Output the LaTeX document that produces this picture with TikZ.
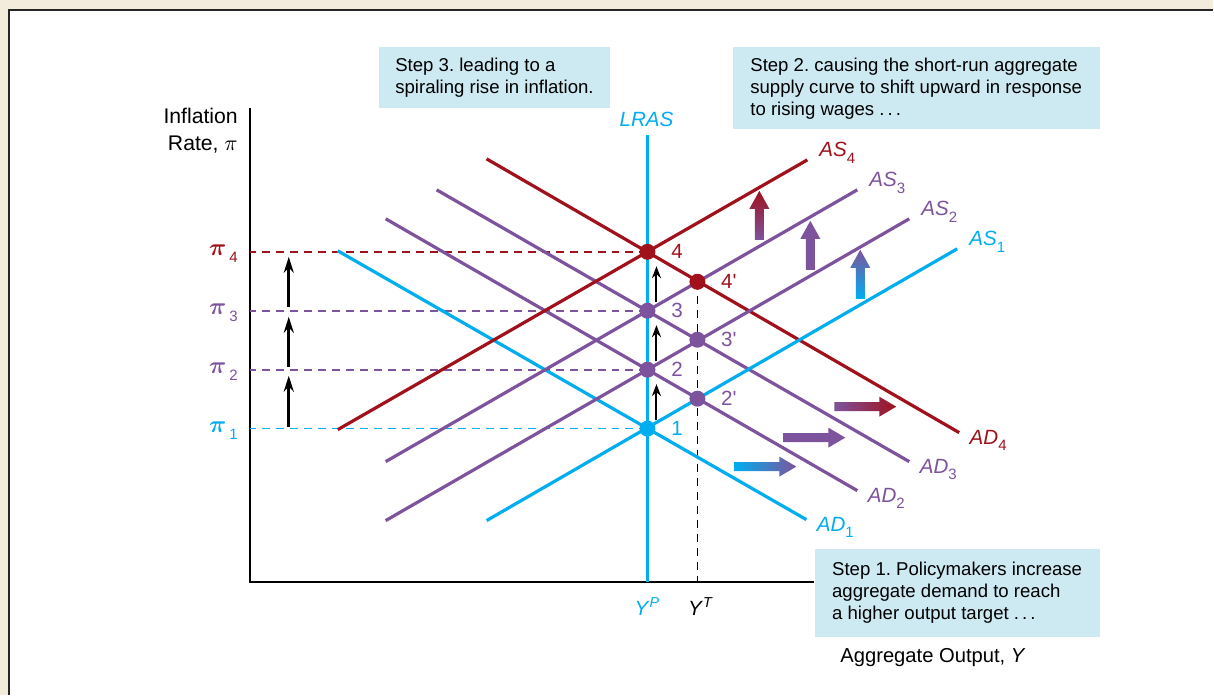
\documentclass[tikz,border=0pt]{standalone}
\usepackage{amsmath}
\usepackage{fontspec}
\setmainfont{Liberation Sans}
\usetikzlibrary{arrows.meta}

\definecolor{lrasblue}{RGB}{0,174,239}
\definecolor{shiftpurple}{RGB}{125,83,157}
\definecolor{spiralred}{RGB}{160,17,28}
\definecolor{notefill}{RGB}{205,233,241}
\definecolor{framebeige}{RGB}{243,235,220}

\newcommand{\curvename}[2]{\textit{#1}\raisebox{-0.6ex}{\fontsize{7.5}{8}\selectfont #2}}
\newcommand{\pilevel}[1]{{\fontsize{12}{12}\selectfont$\boldsymbol{\pi}$}\,\raisebox{-0.7ex}{\fontsize{7.5}{8}\selectfont #1}}
\frenchspacing

\begin{document}
\begin{tikzpicture}[x=0.5pt, y=-0.5pt,
  font=\fontsize{9.3}{11}\selectfont,
  curve/.style={line width=1.6pt},
  guide/.style={line width=0.8pt, dash pattern=on 4pt off 3pt},
  dot/.style={circle, inner sep=0pt, minimum size=8pt},
  note/.style={fill=notefill, anchor=north west, align=left, inner sep=0pt},
  nudge/.style={-{Stealth[length=6pt, width=4.5pt]}, line width=1pt},
  climb/.style={-{Stealth[length=8pt, width=5pt]}, line width=1.3pt},
  big/.style={font=\fontsize{10.3}{12}\selectfont},
  aslbl/.style={big, xshift=15pt, yshift=3.5pt},
  adlbl/.style={big, xshift=14.5pt, yshift=-4pt},
  ptlbl/.style={big, anchor=west, inner sep=0pt, xshift=7.5pt}
]
% frame
\fill[framebeige] (0,0) rectangle (1214,696);
\fill[white] (8,9) rectangle (1214,696);
\draw[line width=1pt, black!85] (9,696) -- (9,10) -- (1214,10);

% axes
\coordinate (origin) at (250,582);
\draw[line width=1pt] (250,108) -- (origin) -- (815,582);
\node[align=right, anchor=east, font=\fontsize{10.6}{13.5}\selectfont] (ylab) at (245,131) {Inflation\\Rate, $\pi$};
\node[anchor=west, font=\fontsize{10.1}{12}\selectfont] (xlab) at (834,658) {Aggregate Output, \textit{Y}};

% equilibria
\coordinate (e1) at (648,429);
\coordinate (e2) at (648,370);
\coordinate (e3) at (648,311);
\coordinate (e4) at (648,252);
\coordinate (t2) at (698,399);
\coordinate (t3) at (698,340);
\coordinate (t4) at (698,282);

\draw[guide, lrasblue] (e1) -- (e1 -| origin);
\draw[guide, shiftpurple] (e2) -- (e2 -| origin);
\draw[guide, shiftpurple] (e3) -- (e3 -| origin);
\draw[guide, spiralred] (e4) -- (e4 -| origin);
\draw[guide, black] (t4) -- (t4 |- origin);

\node[text=spiralred, anchor=east] (pi4) at (245,254) {\pilevel{4}};
\node[text=shiftpurple, anchor=east] (pi3) at (245,313) {\pilevel{3}};
\node[text=shiftpurple, anchor=east] (pi2) at (245,372) {\pilevel{2}};
\node[text=lrasblue, anchor=east] (pi1) at (245,431) {\pilevel{1}};

% LRAS
\draw[curve, line width=1.8pt, lrasblue] (648,135) -- (origin -| e1);
\node[big, text=lrasblue] (lras) at (647,120) {\textit{LRAS}};
\node[big, text=lrasblue] (yp) at (648,607) {\textit{Y}\textsuperscript{\itshape P}};
\node[big] (yt) at (701,607) {\textit{Y}\textsuperscript{\itshape T}};

% aggregate demand
\draw[curve, lrasblue] (338,251) -- (807,520) node[adlbl] {\curvename{AD}{1}};
\draw[curve, shiftpurple] (386,219) -- (858,491) node[adlbl] {\curvename{AD}{2}};
\draw[curve, shiftpurple] (437,190) -- (910,462) node[adlbl] {\curvename{AD}{3}};
\draw[curve, spiralred] (487,159) -- (960,433) node[adlbl] {\curvename{AD}{4}};

% aggregate supply
\draw[curve, lrasblue] (487,521) -- (958,249) node[aslbl] {\curvename{AS}{1}};
\draw[curve, shiftpurple] (386,521) -- (910,219) node[aslbl] {\curvename{AS}{2}};
\draw[curve, shiftpurple] (386,462) -- (858,190) node[aslbl] {\curvename{AS}{3}};
\draw[curve, spiralred] (338,430) -- (808,160) node[aslbl] {\curvename{AS}{4}};

\node[dot, fill=lrasblue] (d1) at (e1) {};
\node[dot, fill=shiftpurple] (d2) at (e2) {};
\node[dot, fill=shiftpurple] (d3) at (e3) {};
\node[dot, fill=spiralred] (d4) at (e4) {};
\node[dot, fill=shiftpurple] (d2t) at (t2) {};
\node[dot, fill=shiftpurple] (d3t) at (t3) {};
\node[dot, fill=spiralred] (d4t) at (t4) {};

\node[ptlbl, text=lrasblue] at (d1.east) {1};
\node[ptlbl, text=shiftpurple] at (d2.east) {2};
\node[ptlbl, text=shiftpurple] at (d3.east) {3};
\node[ptlbl, text=spiralred] at (d4.east) {4};
\node[ptlbl, text=shiftpurple] at (d2t.east) {2\textquotesingle};
\node[ptlbl, text=shiftpurple] at (d3t.east) {3\textquotesingle};
\node[ptlbl, text=spiralred] at (d4t.east) {4\textquotesingle};

% rising inflation
\draw[nudge] ([xshift=4.5pt]d1.north) -- ([xshift=4.5pt, yshift=-3pt]d2.south);
\draw[nudge] ([xshift=4.5pt]d2.north) -- ([xshift=4.5pt, yshift=-3pt]d3.south);
\draw[nudge] ([xshift=4.5pt]d3.north) -- ([xshift=4.5pt, yshift=-3pt]d4.south);
\draw[climb] (289,427) -- (289,376);
\draw[climb] (289,367) -- (289,317);
\draw[climb] (289,307) -- (289,257);

% shifts
\foreach \x/\y/\lo/\hi in {760/240/shiftpurple/spiralred, 811/270/shiftpurple/shiftpurple, 861/299/lrasblue/shiftpurple}
  \shade[bottom color=\lo, top color=\hi] (\x,\y) -- ++(-4.5,0) -- ++(0,-31) -- ++(-5.5,0)
    -- ++(10,-18) -- ++(10,18) -- ++(-5.5,0) -- ++(0,31) -- cycle;
\foreach \x/\y/\lo/\hi in {735/467/lrasblue/shiftpurple, 784/438/shiftpurple/shiftpurple, 835/407/shiftpurple/spiralred}
  \shade[left color=\lo, right color=\hi] (\x,\y) -- ++(0,-4.5) -- ++(45,0) -- ++(0,-5.5)
    -- ++(17,10) -- ++(-17,10) -- ++(0,-5.5) -- ++(-45,0) -- cycle;

% steps
\node[note, minimum width=115.5pt, minimum height=30.5pt] (step3) at (379,47)
  {Step 3. leading to a\\spiraling rise in inflation.};
\node[note, minimum width=183.5pt, minimum height=41pt] (step2) at (733,47)
  {Step 2. causing the short-run aggregate\\supply curve to shift upward in response\\to rising wages .\,.\,.};
\node[note, minimum width=142.5pt, minimum height=44pt] (step1) at (815,549)
  {Step 1. Policymakers increase\\aggregate demand to reach\\a higher output target .\,.\,.};
\end{tikzpicture}
\end{document}
